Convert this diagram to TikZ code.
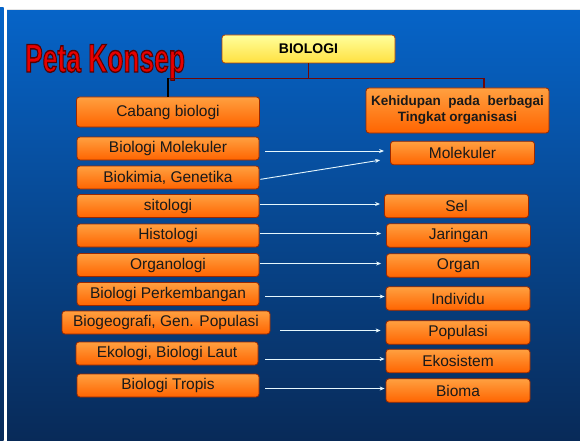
\documentclass[tikz,border=0pt]{standalone}
\usepackage{fontspec}
\setmainfont{Liberation Sans}
\usetikzlibrary{arrows.meta,calc}

\definecolor{bgtop}{HTML}{0664C8}
\definecolor{bgbot}{HTML}{082A58}
\definecolor{boxtop}{HTML}{FFA040}
\definecolor{boxbot}{HTML}{FF6400}
\definecolor{boxline}{HTML}{9A2800}
\definecolor{ylwtop}{HTML}{FFFF9C}
\definecolor{ylwbot}{HTML}{FFE040}
\definecolor{maroon}{HTML}{6E0808}
\definecolor{titlered}{HTML}{E80000}

\tikzset{
  konsep/.style={draw=boxline, line width=0.8pt, rounded corners=3pt,
    top color=boxtop, bottom color=boxbot, inner sep=0pt,
    text=black!90, font=\fontsize{15.5}{17}\selectfont},
  akar/.style={draw=boxline!70!orange, line width=0.8pt, rounded corners=3pt,
    top color=ylwtop, bottom color=ylwbot, inner sep=0pt,
    font=\bfseries\fontsize{14}{16}\selectfont},
  cabang/.style={maroon, line width=1.6pt},
  panah/.style={white!90!cyan, line width=0.9pt, -{Stealth[length=5pt,width=4pt]}}
}

\begin{document}
\begin{tikzpicture}[x=1pt, y=-1pt]

  \useasboundingbox (0,0) rectangle (580,441);

	%background
  \fill[white] (0,0) rectangle (580,441);
  \shade[top color=bgtop, bottom color=bgbot] (0,8) rectangle (3.5,441);
  \shade[top color=bgtop, bottom color=bgbot] (7,9.5) rectangle (580,441);
  \draw[white!80!gray, line width=0.6pt] (7,9.5) -- (580,9.5);

	%title
  \node[anchor=base west, inner sep=0pt, xscale=0.66, text=titlered,
        font=\bfseries\fontsize{40}{40}\selectfont] (judul) at (25,72)
        {\special{pdf:code 2 Tr 1.4 w 0.35 0 0 RG}Peta Konsep\special{pdf:code 0 Tr}};

	%top
  \node[akar, minimum width=173pt, minimum height=28pt] (bio) at (308.5,49) {BIOLOGI};
  \node[konsep, minimum width=183pt, minimum height=30pt] (cab) at (168,112) {Cabang biologi};
  \node[konsep, minimum width=183pt, minimum height=45pt, align=center,
        font=\bfseries\fontsize{13.5}{16}\selectfont] (keh) at (457.5,110.5)
        {Kehidupan\ \ pada\ \ berbagai\\Tingkat organisasi};

  \coordinate (j) at ($(bio.south)+(0,15)$);
  \draw[cabang] (bio.south) -- (j) -| ([xshift=26.5pt]keh.north);
  \draw[cabang] (j) -| (cab.north);
  \draw[black, line width=1.6pt] (cab.north) -- ++(0,-19);

	%left column
    \foreach \name/\txt/\x/\y/\w in {lmol/Biologi Molekuler/168/148.5/182, lbk/{Biokimia, Genetika}/168/177.5/182,
        lsit/sitologi/168/206/182, lhis/Histologi/168/235.5/182, lorg/Organologi/168/265/182,
        lper/Biologi Perkembangan/168/294/182, lbgf/{Biogeografi, Gen. Populasi}/166/322.5/208,
        leko/{Ekologi, Biologi Laut}/167/353.5/182, ltro/Biologi Tropis/168/385.5/182}{
         \node[konsep, minimum width=\w pt, minimum height=23pt] (\name) at (\x,\y) {\txt};
    }

	%right column
    \foreach \name/\txt/\x/\y in {rmol/Molekuler/462.5/153, rsel/Sel/456.5/206, rjar/Jaringan/458.5/235.5,
        rorg/Organ/458.5/265.5, rind/Individu/458/298.5, rpop/Populasi/458/332.5,
        reko/Ekosistem/458/361, rbio/Bioma/458/390.5}{
         \node[konsep, minimum width=144pt, minimum height=23.5pt] (\name) at (\x,\y) {\txt};
    }

	%arrows
    \foreach \a/\b/\s/\e in {lmol/rmol/6/6, lsit/rsel/1/4, lhis/rjar/1/5, lorg/rorg/1/5,
        lper/rind/6/1, lbgf/rpop/10/5, leko/reko/7/1, ltro/rbio/6/1}{
         \draw[panah, shorten <=\s pt, shorten >=\e pt] ([yshift=2pt]\b.west -| \a.east) -- ([yshift=2pt]\b.west);
    }
  \draw[panah, shorten <=1pt] ([yshift=-2pt]lbk.east) -- ([xshift=-10pt,yshift=5pt]rmol.south west);

\end{tikzpicture}
\end{document}
